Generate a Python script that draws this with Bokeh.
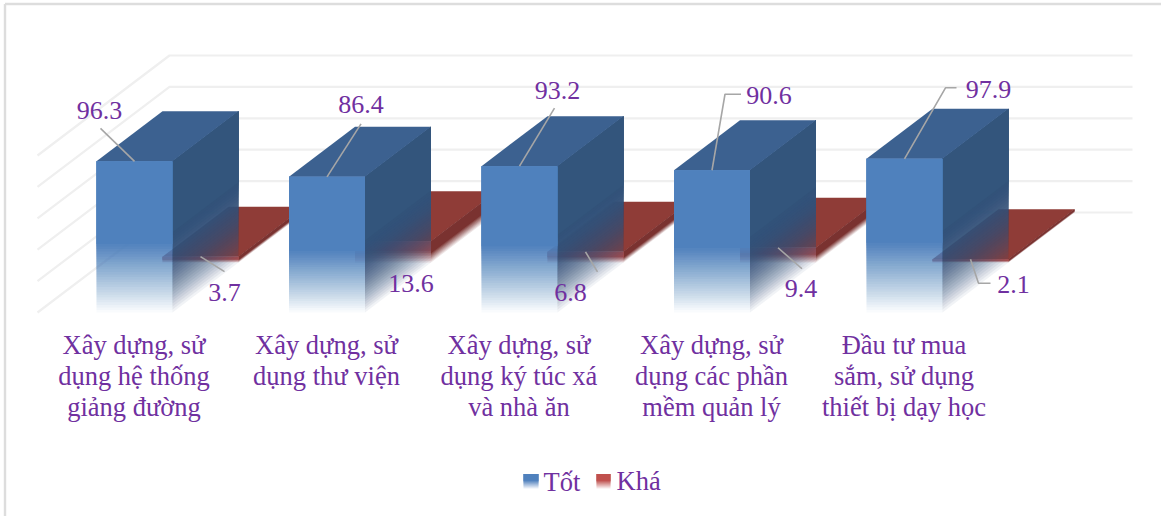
from bokeh.plotting import figure
from bokeh.models import Range1d, ColumnDataSource
from bokeh.core.properties import value
from bokeh.embed import file_html
from bokeh.resources import INLINE

# ---- data
category_lines = [
    ["Xây dựng, sử", "dụng hệ thống", "giảng đường"],
    ["Xây dựng, sử", "dụng thư viện"],
    ["Xây dựng, sử", "dụng ký túc xá", "và nhà ăn"],
    ["Xây dựng, sử", "dụng các phần", "mềm quản lý"],
    ["Đầu tư mua", "sắm, sử dụng", "thiết bị dạy học"],
]
tot = [96.3, 86.4, 93.2, 90.6, 97.9]
kha = [3.7, 13.6, 6.8, 9.4, 2.1]
grid_values = [0, 20, 40, 60, 80, 100]
series_names = ["Tốt", "Khá"]

# ---- layout of the oblique projection
W, H = 1161, 516
PX_U, PX_V = 192.5, 1.57       # pixels per category, pixels per percent
X0, Y0 = 96.0, 312.0           # screen position of category 0, value 0
BAR_W = 76 / PX_U
DX, DV = 132 / PX_U, 100 / PX_V  # depth vector, in data units
CAT_L, CAT_R = -59 / PX_U, 904 / PX_U

PURPLE = "#7030A0"
FONT = "Liberation Serif"


def U(px):
    return (px - X0) / PX_U


def V(py):
    return (Y0 - py) / PX_V


p = figure(width=W, height=H, output_backend="svg", toolbar_location=None,
           x_range=Range1d(U(0), U(W)), y_range=Range1d(V(H), V(0)),
           min_border=0, margin=(0, 0, 0, 0))
p.axis.visible = False
p.grid.visible = False
p.outline_line_color = None
p.background_fill_color = "white"
p.border_fill_color = "white"

# chart frame
p.multi_line(xs=[[U(4.5), U(4.5)], [U(4.5), U(W)]], ys=[[V(H), V(3.5)], [V(3.5), V(3.5)]],
             line_color="#DDDDDD", line_width=2.4)

# walls
gx, gy = [], []
for g in grid_values:
    gx.append([CAT_L, CAT_L + DX, CAT_R + DX])
    gy.append([g, g + DV, g + DV])
p.multi_line(xs=gx, ys=gy, line_color="#EFEFEF", line_width=2.2)

polys = {"xs": [], "ys": [], "c": [], "a": []}


def add(xs, ys, c, a=1.0):
    polys["xs"].append(list(xs))
    polys["ys"].append(list(ys))
    polys["c"].append(c)
    polys["a"].append(a)


def faded(quad, top, span, n, power, fade_color, solid_color):
    """Nested layers from a level up to the top: their alpha accumulates upward."""
    prev = 0.0
    for i in range(1, n + 1):
        f = i / n
        A = 1 - (1 - f) ** power
        a = 1 - (1 - A) / (1 - prev) if prev < 1 else 1
        level = span * (i - 1) / n
        add(*quad(level, top), solid_color if i == n else fade_color, a)
        prev = A


def front_quad(u, d):
    uu, dv = u + d * DX, d * DV
    def q(lo, hi):
        return ([uu, uu + BAR_W, uu + BAR_W, uu],
                [lo + dv, lo + dv, hi + dv, hi + dv])
    return q


def side_quad(u, d0, d1):
    a, b = u + BAR_W + d0 * DX, u + BAR_W + d1 * DX
    def q(lo, hi):
        return ([a, b, b, a],
                [lo + d0 * DV, lo + d1 * DV, hi + d1 * DV, hi + d0 * DV])
    return q


def top_quad(u, val, d0, d1):
    return ([u + d0 * DX, u + BAR_W + d0 * DX, u + BAR_W + d1 * DX, u + d1 * DX],
            [val + d0 * DV, val + d0 * DV, val + d1 * DV, val + d1 * DV])


# Khá: flat plates in the back row
for i, val in enumerate(kha):
    add(*top_quad(i, val, 0.5, 1.0), "#8F3C37")
    faded(side_quad(i, 0.5, 1.0), val, val * 0.5, 8, 1, "#7A3230", "#7A3230")
    faded(front_quad(i, 0.5), val, val * 0.6, 8, 1, "#B04A47", "#B04A47")

# Tốt: columns in the front row
for i, val in enumerate(tot):
    faded(side_quad(i, 0.0, 0.5), val, val * 0.55, 28, 2, "#33537A", "#33557C")
    add(*top_quad(i, val, 0.0, 0.5), "#3C6190")
    faded(front_quad(i, 0.0), val, val * 0.47, 28, 1, "#4F81BD", "#4F81BD")

p.patches(xs="xs", ys="ys", fill_color="c", fill_alpha="a", line_color=None,
          source=ColumnDataSource(polys))

# legend swatches
for (left, right, col) in [(523, 538, "#4F81BD"), (596, 610, "#C0504D")]:
    def q(lo, hi, l=U(left), r=U(right)):
        return ([l, r, r, l], [lo, lo, hi, hi])
    top_v, bot_v = V(473.5), V(488)
    span = (top_v - bot_v) * 0.6
    prev = 0.0
    n = 8
    for k in range(1, n + 1):
        A = k / n
        a = 1 - (1 - A) / (1 - prev) if prev < 1 else 1
        xs_, ys_ = q(bot_v + span * (k - 1) / n, top_v)
        p.patch(xs_, ys_, fill_color=col, fill_alpha=a, line_color=None)
        prev = A

# data-label placement, as pixel offsets from each value's anchor
tot_label_offset = [(-35, -51), (34, -72), (38, -76), (57, -75), (84, -69)]
kha_label_offset = [(24, 36), (18, 42), (-15, 41), (23, 41), (43, 25)]
tot_leader = [[(-34, -33)], [(34, -53)], [(35, -58)], [(13, -76), (29, -76)], [(41, -71), (52, -71)]]
kha_leader = [[(24, 15)], [], [(12, 20)], [(24, 21)], [(8, 24), (20, 24)]]

lx, ly, tx, ty, tt = [], [], [], [], []
for vals, d, offs, lead in [(tot, 0.0, tot_label_offset, tot_leader),
                            (kha, 0.5, kha_label_offset, kha_leader)]:
    for i, val in enumerate(vals):
        ax = i + BAR_W / 2 + d * DX
        ay = val + d * DV
        tx.append(ax + offs[i][0] / PX_U)
        ty.append(ay - offs[i][1] / PX_V)
        tt.append(f"{val:.1f}")
        if lead[i]:
            lx.append([ax] + [ax + o[0] / PX_U for o in lead[i]])
            ly.append([ay] + [ay - o[1] / PX_V for o in lead[i]])
p.multi_line(xs=lx, ys=ly, line_color="#A6A6A6", line_width=1.6)
p.text(x=tx, y=ty, text=tt, text_font=value(FONT), text_font_size="26px",
       text_color=PURPLE, text_align="center", text_baseline="middle")

# category labels
cx, cy, ct = [], [], []
for i, lines in enumerate(category_lines):
    for j, line in enumerate(lines):
        cx.append(i + BAR_W / 2 - 0.5 / PX_U)
        cy.append(V(344.5 + 31 * j))
        ct.append(line)
p.text(x=cx, y=cy, text=ct, text_font=value(FONT), text_font_size="26.5px",
       text_color=PURPLE, text_align="center", text_baseline="middle")

# legend texts
p.text(x=[U(543), U(616)], y=[V(481), V(480)], text=series_names, text_font=value(FONT),
       text_font_size="26.5px", text_color=PURPLE, text_align="left", text_baseline="middle")

open("out.html", "w").write(file_html(p, INLINE))
